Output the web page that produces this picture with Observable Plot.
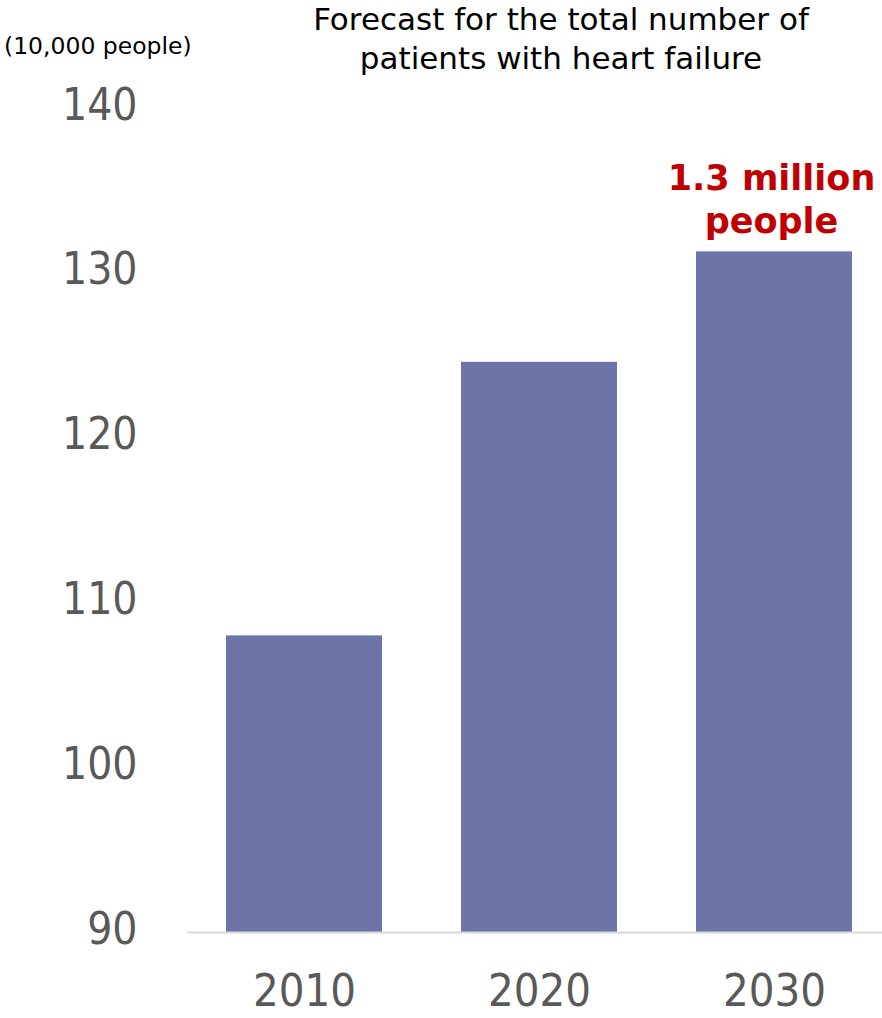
<!DOCTYPE html>
<html>
<head>
<meta charset="utf-8">
<script src="https://cdn.jsdelivr.net/npm/d3@7"></script>
<script src="https://cdn.jsdelivr.net/npm/@observablehq/plot@0.6"></script>
<style>
  html, body { margin: 0; padding: 0; background: #fff; }
  #wrap { position: relative; width: 882px; height: 1018px; font-family: "DejaVu Sans", Verdana, sans-serif; }
  #title { position: absolute; left: 200px; width: 722px; top: 0px; text-align: center; font-size: 31px; line-height: 39px; color: #000; font-family: "DejaVu Sans", Verdana, sans-serif; }
  #unit { position: absolute; left: 4px; top: 32px; font-size: 23.5px; color: #000; font-family: "DejaVu Sans", Verdana, sans-serif; }
  #chart { position: absolute; left: 0; top: 0; }
</style>
</head>
<body>
<div id="wrap">
  <div id="chart"></div>
  <div id="title">Forecast for the total number of<br>patients with heart failure</div>
  <div id="unit">(10,000 people)</div>
</div>
<script>
const years = ["2010", "2020", "2030"];
const patients = [108.0, 124.6, 131.3];
const yTicks = [90, 100, 110, 120, 130, 140];
const annotationText = "1.3 million\npeople";
const annotationYear = "2030";

const data = years.map((y, i) => ({year: y, value: patients[i]}));
const note = data.filter(d => d.year === annotationYear).map(d => ({...d, label: annotationText}));

const chart = Plot.plot({
  width: 882,
  height: 1018,
  marginTop: 108,
  marginBottom: 86,
  marginLeft: 187,
  marginRight: 0,
  style: {fontFamily: "'DejaVu Sans Condensed', 'DejaVu Sans', sans-serif", background: "transparent", overflow: "visible"},
  x: {domain: years, range: [186.5, 891.5], paddingInner: 0.336, paddingOuter: 0.168, label: null},
  y: {domain: [90, 140], label: null},
  marks: [
    Plot.barY(data, {x: "year", y1: 90, y2: "value", fill: "#6C74A8"}),
    Plot.ruleY([90], {stroke: "#D9D9D9", strokeWidth: 2}),
    Plot.axisY({ticks: yTicks, tickSize: 0, tickPadding: 50, fontSize: 44, fill: "#595959", dy: -3, label: null}),
    Plot.axisX({tickSize: 0, tickPadding: 42, fontSize: 45, fill: "#595959", label: null}),
    Plot.text(note, {x: "year", y: "value", text: "label", lineAnchor: "bottom", dy: -19, dx: -3, fontSize: 35, fontWeight: "bold", fill: "#C00000", lineHeight: 1.23, fontFamily: "'DejaVu Sans', Verdana, sans-serif"})
  ]
});
document.getElementById("chart").appendChild(chart);
</script>
</body>
</html>
